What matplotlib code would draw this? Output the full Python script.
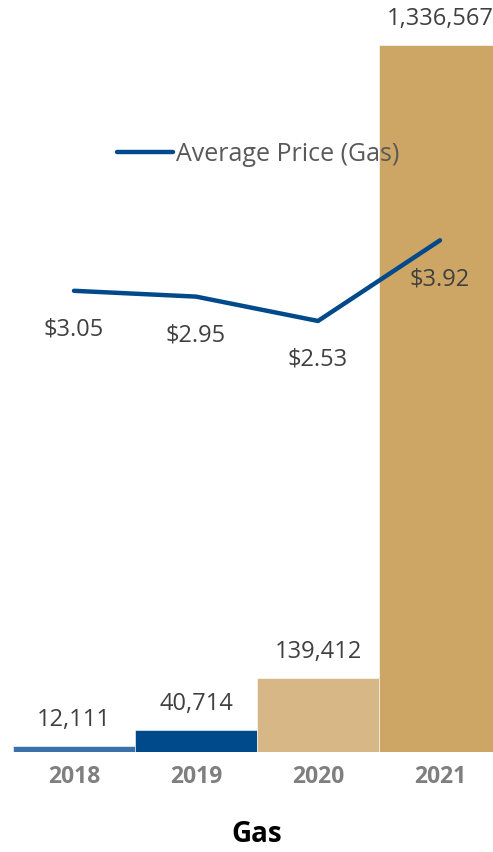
import matplotlib
matplotlib.use("Agg")
import matplotlib.pyplot as plt
from matplotlib.lines import Line2D

# ── Data ──────────────────────────────────────────────────────────────────────
years   = ["2018", "2019", "2020", "2021"]
volumes = [12111, 40714, 139412, 1336567]
prices  = [3.05, 2.95, 2.53, 3.92]

bar_colors = ["#3A72A8", "#00498A", "#D7B785", "#CDA666"]
line_color = "#00498A"

plt.rcParams["font.family"] = ["Open Sans", "DejaVu Sans"]

W, H = 493, 853
fig = plt.figure(figsize=(W / 100, H / 100), dpi=100)
ax = fig.add_axes([13 / W, 100 / H, 488 / W, 753 / H])

x = list(range(len(years)))
ax.bar(x, volumes, width=1.0, color=bar_colors, edgecolor="white", linewidth=0.4, zorder=1)
ax.set_xlim(-0.5, 3.5)
ax.set_ylim(0, 1423500)

for xi, v in zip(x, volumes):
    ax.annotate(f"{v:,}", xy=(xi, v), xytext=(0, 27), textcoords="offset pixels",
                ha="center", va="center", fontsize=17, color="#404040")

ax.set_xticks(x)
ax.set_xticklabels(years, fontsize=16.5, fontweight="bold", color="#7F7F7F")
ax.tick_params(axis="x", length=0, pad=9)
ax.set_yticks([])
for s in ax.spines.values():
    s.set_visible(False)
ax.set_xlabel("Gas", fontsize=20, fontweight="bold", color="black", labelpad=22)

# ── Secondary axis: average price ────────────────────────────────────────────
ax2 = ax.twinx()
ax2.plot(x, prices, color=line_color, lw=3.2, solid_capstyle="round", zorder=3)
ax2.set_ylim(-4.9, 8.08)
ax2.set_yticks([])
for s in ax2.spines.values():
    s.set_visible(False)
for xi, p in zip(x, prices):
    ax2.annotate(f"${p:.2f}", xy=(xi, p), xytext=(0, -38), textcoords="offset pixels",
                 ha="center", va="center", fontsize=17, color="#404040")

handle = Line2D([0], [0], color=line_color, lw=3.2, solid_capstyle="round")
fig.legend([handle], ["Average Price (Gas)"], loc="center left",
           bbox_to_anchor=(117 / W, 1 - 155 / H), bbox_transform=fig.transFigure,
           frameon=False, fontsize=18, handlelength=2.25, handletextpad=0.12,
           borderpad=0, borderaxespad=0, labelcolor="#595959")

fig.savefig("out.png", dpi=100, facecolor="white")
